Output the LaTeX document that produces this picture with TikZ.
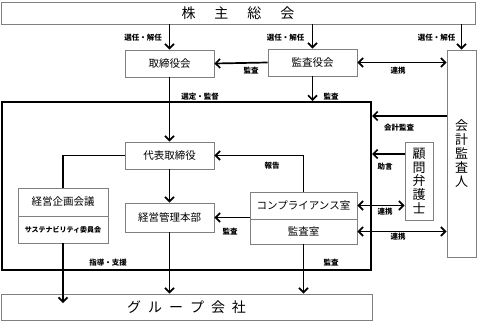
\documentclass[tikz,border=0pt]{standalone}
\usepackage{fontspec}
\newfontfamily\jp{Noto Sans CJK JP}
\usetikzlibrary{arrows.meta}
\begin{document}
\begin{tikzpicture}[x=1pt,y=-1pt,
  box/.style={draw=black!50,line width=0.8pt,fill=white,inner sep=0pt,font=\jp\fontsize{10.5}{12}\selectfont},
  arr/.style={line width=1.7pt,-{Straight Barb[length=4.5pt,width=9pt]}},
  darr/.style={line width=1.7pt,{Straight Barb[length=4.5pt,width=9pt]}-{Straight Barb[length=4.5pt,width=9pt]}},
  ln/.style={line width=1.7pt},
  lab/.style={font=\jp\bfseries\fontsize{7.5}{8}\selectfont,inner sep=0pt},
  vtext/.style={align=center,font=\jp\fontsize{13}{13.8}\selectfont}]
\useasboundingbox (0,0) rectangle (480,324);
\fill[white] (0,0) rectangle (480,324);
% big frame
\node[draw=black,line width=2pt,minimum width=369pt,minimum height=168pt,inner sep=0pt] (big) at (186.5,186) {};
% boxes
\node[box,minimum width=474pt,minimum height=22pt,font=\jp\fontsize{14}{16}\selectfont] (sh) at (238,13) {株\hspace{19pt}主\hspace{19pt}総\hspace{19pt}会};
\node[box,minimum width=89pt,minimum height=27pt] (tori) at (169.5,63.5) {取締役会};
\node[box,minimum width=89pt,minimum height=27pt] (kansa) at (312.5,62.5) {監査役会};
\node[box,minimum width=29pt,minimum height=207pt,vtext] (kaikei) at (461.5,153.5) {会\\計\\監\\査\\人};
\node[box,minimum width=89pt,minimum height=27pt] (daihyo) at (169.5,155.5) {代表取締役};
\node[box,minimum width=90pt,minimum height=28pt] (kikaku) at (63,202) {経営企画会議};
\node[box,minimum width=90pt,minimum height=27pt,font=\jp\bfseries\fontsize{7}{8}\selectfont] (kikakub) at (63,229.5) {サステナビリティ委員会};
\node[box,minimum width=89pt,minimum height=29pt] (kanri) at (169.5,217.5) {経営管理本部};
\node[box,minimum width=107pt,minimum height=27pt] (compt) at (303.5,205.5) {コンプライアンス室};
\node[box,minimum width=107pt,minimum height=25pt] (kshitsu) at (303.5,231.5) {監査室};
\node[box,minimum width=28pt,minimum height=78pt,vtext] (komon) at (419,181) {顧\\問\\弁\\護\\士};
\node[box,minimum width=371pt,minimum height=26pt,font=\jp\fontsize{14}{16}\selectfont] (group) at (186.5,307) {グ\hspace{7pt}ル\hspace{7pt}ー\hspace{7pt}プ\hspace{7pt}会\hspace{7pt}社};
% helper levels
\coordinate (ykai) at (0,116);
\coordinate (yjo) at (0,154);
\coordinate (gin) at (0,303);
% connectors
\draw[arr] (tori.north |- sh.south) -- (tori.north);
\draw[arr] (kansa.north |- sh.south) -- (kansa.north);
\draw[arr] (kaikei.north |- sh.south) -- (kaikei.north);
\draw[arr] (kansa.west) -- (tori.east);
\draw[darr] (kansa.east) -- (kansa.east -| kaikei.west);
\draw[arr] (tori.south) -- (daihyo.north);
\draw[arr] (kansa.south) -- (kansa.south |- big.north);
\draw[arr] (kaikei.west |- ykai) -- (big.east |- ykai);
\draw[arr] (komon.west |- yjo) -- (big.east |- yjo);
\draw[ln] (daihyo.west) -| (kikaku.north);
\draw[arr] (daihyo.south) -- (kanri.north);
\draw[arr] (kanri.south) -- (kanri.south |- group.north);
\draw[arr] (kikakub.south) -- (kikakub.south |- gin);
\draw[arr] (compt.north) |- (daihyo.east);
\draw[arr] (compt.south west |- kanri.east) -- (kanri.east);
\draw[arr] (kshitsu.south) -- (kshitsu.south |- group.north);
\draw[darr] (compt.east) -- (compt.east -| komon.west);
\draw[darr] (kshitsu.east) -- (kshitsu.east -| kaikei.west);
% labels
\node[lab] (l1) at (143,38) {選任・解任};
\node[lab] (l2) at (285.5,38) {選任・解任};
\node[lab] (l3) at (436.5,38) {選任・解任};
\node[lab] (l4) at (251,71) {監査};
\node[lab] (l5) at (398,71) {連携};
\node[lab] (l6) at (200,97) {選定・監督};
\node[lab] (l7) at (331,97) {監査};
\node[lab] (l8) at (399,128) {会計監査};
\node[lab] (l9) at (385,167) {助言};
\node[lab] (l10) at (272,166) {報告};
\node[lab] (l11) at (385,212) {連携};
\node[lab] (l12) at (230,232) {監査};
\node[lab] (l13) at (398,237) {連携};
\node[lab] (l14) at (108,263) {指導・支援};
\node[lab] (l15) at (331,263) {監査};
\end{tikzpicture}
\end{document}
